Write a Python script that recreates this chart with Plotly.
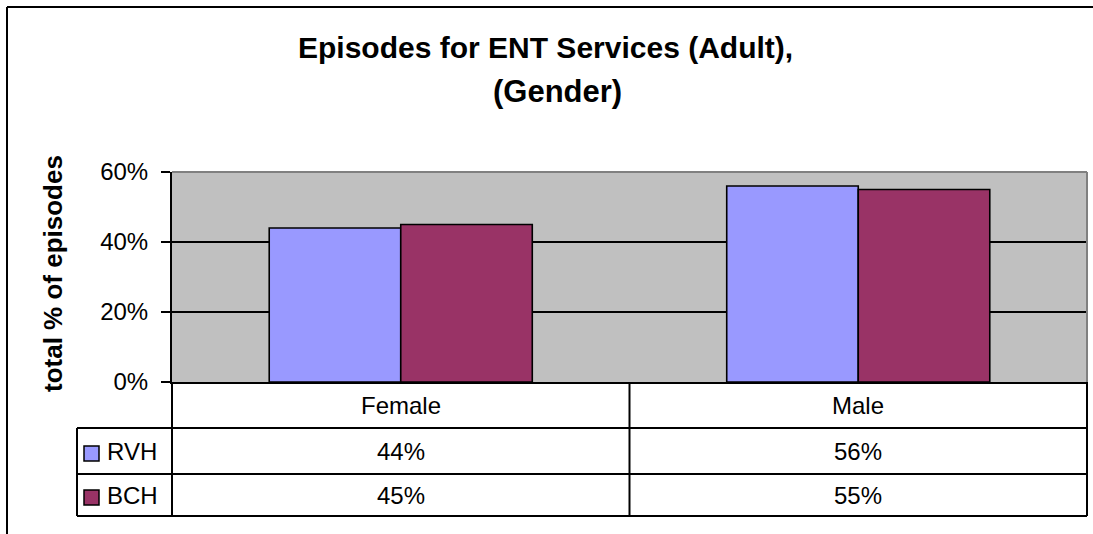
import plotly.graph_objects as go

# --- data ---------------------------------------------------------------
categories = ["Female", "Male"]
series_names = ["RVH", "BCH"]
rvh_share = [0.44, 0.56]
bch_share = [0.45, 0.55]
series_colors = ["#9999FF", "#993366"]

title_line1 = "Episodes for ENT Services (Adult),"
title_line2 = "(Gender)"
y_title = "total % of episodes"

# --- canvas geometry (pixels) ---------------------------------------------
W, H = 1093, 534
L, R, T, B = 172, 1087, 172, 382          # plot area edges
PW, PH = R - L, B - T

FONT = "Arial, Liberation Sans, sans-serif"


def fx(x):
    """pixel x -> paper x"""
    return (x - L) / PW


def fy(y):
    """pixel y -> paper y"""
    return (B - y) / PH


fig = go.Figure()
for name, vals, col in zip(series_names, [rvh_share, bch_share], series_colors):
    fig.add_trace(go.Bar(
        x=categories, y=vals, name=name,
        marker=dict(color=col, line=dict(color="black", width=1.6)),
        hoverinfo="skip",
    ))

shapes = []
line_k = dict(color="black", width=2)

# grey top/right border of plot area
shapes.append(dict(type="line", xref="paper", yref="paper", x0=0, x1=1, y0=1, y1=1,
                   line=dict(color="#808080", width=2)))
shapes.append(dict(type="line", xref="paper", yref="paper", x0=1, x1=1, y0=0, y1=1,
                   line=dict(color="#808080", width=2)))

# data table grid under the plot
row_lines = [428, 474, 516]
for yy in row_lines:
    shapes.append(dict(type="line", xref="paper", yref="paper",
                       x0=fx(77), x1=1, y0=fy(yy), y1=fy(yy), line=line_k))
shapes.append(dict(type="line", xref="paper", yref="paper",
                   x0=fx(77), x1=fx(77), y0=fy(428), y1=fy(516), line=line_k))
for xx in [0, 1]:
    shapes.append(dict(type="line", xref="paper", yref="paper",
                       x0=xx, x1=xx, y0=0, y1=fy(516), line=line_k))
# separator between the two categories
shapes.append(dict(type="line", xref="x", yref="paper",
                   x0=0.5, x1=0.5, y0=0, y1=fy(516), line=line_k))

# legend keys inside the table
key_rows = [(446, 461), (490, 505)]
for (y0, y1), col in zip(key_rows, series_colors):
    shapes.append(dict(type="rect", xref="paper", yref="paper",
                       x0=fx(84), x1=fx(99), y0=fy(y1), y1=fy(y0),
                       fillcolor=col, line=dict(color="black", width=1.5)))

# outer chart border
shapes.append(dict(type="line", xref="paper", yref="paper",
                   x0=fx(7), x1=fx(W), y0=fy(7), y1=fy(7), line=line_k))
shapes.append(dict(type="line", xref="paper", yref="paper",
                   x0=fx(7), x1=fx(7), y0=fy(7), y1=fy(H), line=line_k))

annotations = []
# title
annotations.append(dict(text=f"<b>{title_line1}</b>", xref="paper", yref="paper",
                        x=fx(296), y=fy(66), xanchor="left", yanchor="bottom",
                        showarrow=False, font=dict(family=FONT, size=30, color="black")))
annotations.append(dict(text=f"<b>{title_line2}</b>", xref="paper", yref="paper",
                        x=fx(491), y=fy(111), xanchor="left", yanchor="bottom",
                        showarrow=False, font=dict(family=FONT, size=31, color="black")))
# y-axis title
annotations.append(dict(text=f"<b>{y_title}</b>", xref="paper", yref="paper",
                        x=fx(53), y=fy(273), xanchor="center", yanchor="middle",
                        textangle=-90, showarrow=False,
                        font=dict(family=FONT, size=26, color="black")))

# table: category header row
row_centers = [405, 451, 495]
for c in categories:
    annotations.append(dict(text=c, xref="x", yref="paper", x=c, y=fy(row_centers[0]),
                            xanchor="center", yanchor="middle", showarrow=False,
                            font=dict(family=FONT, size=24, color="black")))
# table: series rows
for name, vals, yc in zip(series_names, [rvh_share, bch_share], row_centers[1:]):
    annotations.append(dict(text=name, xref="paper", yref="paper", x=fx(105), y=fy(yc),
                            xanchor="left", yanchor="middle", showarrow=False,
                            font=dict(family=FONT, size=24, color="black")))
    for c, v in zip(categories, vals):
        annotations.append(dict(text=f"{v:.0%}", xref="x", yref="paper", x=c, y=fy(yc),
                                xanchor="center", yanchor="middle", showarrow=False,
                                font=dict(family=FONT, size=24, color="black")))

fig.update_layout(
    width=W, height=H,
    margin=dict(l=L, r=W - R, t=T, b=H - B, pad=0),
    paper_bgcolor="white", plot_bgcolor="#C0C0C0",
    barmode="group", bargap=0.425, bargroupgap=0,
    showlegend=False,
    shapes=shapes, annotations=annotations,
    font=dict(family=FONT, size=24, color="black"),
)
fig.update_xaxes(showticklabels=False, showgrid=False, showline=True,
                 linecolor="black", linewidth=2, ticks="", zeroline=False,
                 range=[-0.5, 1.5])
fig.update_yaxes(range=[0, 0.6], tickvals=[0, 0.2, 0.4, 0.6], tickformat=".0%",
                 showgrid=True, gridcolor="black", gridwidth=2,
                 showline=True, linecolor="black", linewidth=2,
                 ticks="outside", ticklen=9, tickwidth=2, tickcolor="black",
                 ticklabelstandoff=8, zeroline=False,
                 tickfont=dict(family=FONT, size=24, color="black"))

fig.write_html("out.html")
